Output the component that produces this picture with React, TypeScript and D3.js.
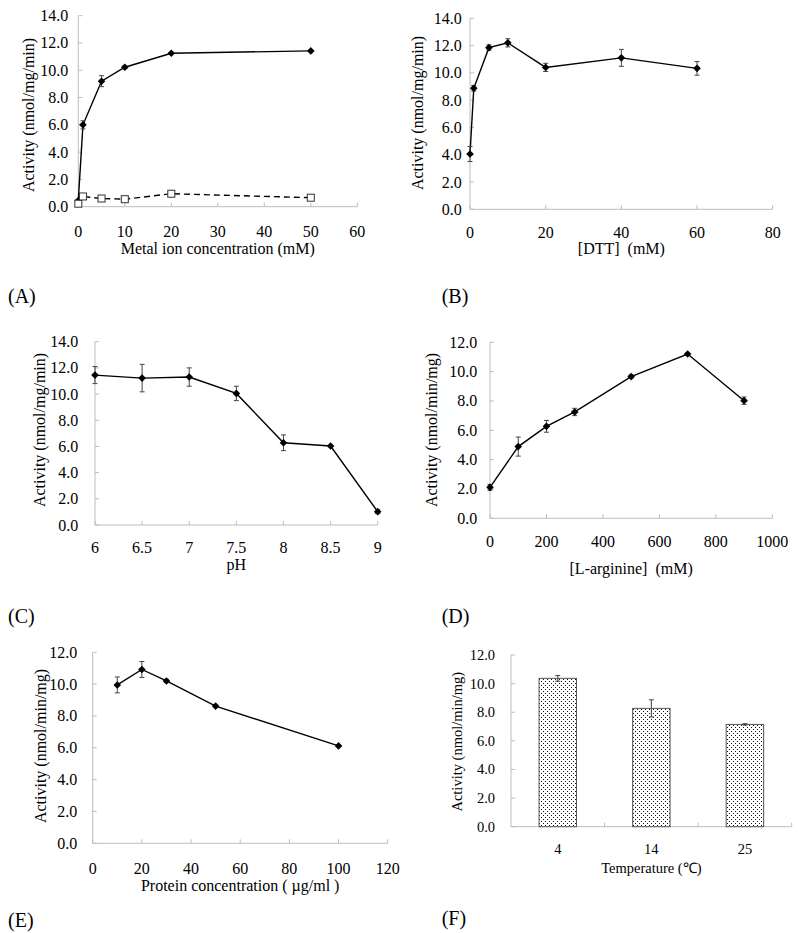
import React from "react";
import * as d3 from "d3";

// ---------- DATA ----------
// (A) metal ion concentration
const metalX = [0, 1, 5, 10, 20, 50];
const metalSolid = [0.45, 6.0, 9.2, 10.22, 11.25, 11.42];
const metalSolidErr = [0, 0.3, 0.4, 0.1, 0.05, 0.05];
const metalOpen = [0.22, 0.75, 0.6, 0.55, 0.95, 0.66];
const metalOpenErr = [0.05, 0.1, 0.05, 0.05, 0.2, 0.05];
// (B) DTT
const dttX = [0, 1, 5, 10, 20, 40, 60];
const dttY = [4.05, 8.87, 11.85, 12.2, 10.4, 11.1, 10.33];
const dttErr = [0.55, 0.2, 0.2, 0.3, 0.3, 0.62, 0.5];
// (C) pH
const phX = [6, 6.5, 7, 7.5, 8, 8.5, 9];
const phY = [11.45, 11.22, 11.3, 10.05, 6.28, 6.03, 1.02];
const phErr = [0.65, 1.05, 0.7, 0.55, 0.6, 0.05, 0.15];
// (D) L-arginine
const argX = [0, 100, 200, 300, 500, 700, 900];
const argY = [2.11, 4.89, 6.27, 7.25, 9.66, 11.2, 8.02];
const argErr = [0.2, 0.65, 0.4, 0.25, 0.1, 0.05, 0.25];
// (E) protein concentration
const protX = [10, 20, 30, 50, 100];
const protY = [9.95, 10.92, 10.2, 8.62, 6.12];
const protErr = [0.5, 0.5, 0.1, 0.05, 0.05];
// (F) temperature
const tempCats = ["4", "14", "25"];
const tempY = [10.37, 8.27, 7.15];
const tempErr = [0.2, 0.6, 0.05];

const xTicksA = [0, 10, 20, 30, 40, 50, 60];
const xTicksB = [0, 20, 40, 60, 80];
const xTicksC = [6, 6.5, 7, 7.5, 8, 8.5, 9];
const xTicksD = [0, 200, 400, 600, 800, 1000];
const xTicksE = [0, 20, 40, 60, 80, 100, 120];
const yTicks14 = [0, 2, 4, 6, 8, 10, 12, 14];
const yTicks12 = [0, 2, 4, 6, 8, 10, 12];

const FONT = "'Liberation Serif', 'Times New Roman', serif";
const AXIS = "#bdbdbd";
const fmtY = d3.format(".1f");
const fmtX = d3.format("~g");

type Series = {
  x: number[];
  y: number[];
  err: number[];
  marker: "diamond" | "square";
  dashed?: boolean;
};

type PanelProps = {
  x0: number; x1: number; y0: number; y1: number;
  xDomain: [number, number]; yDomain: [number, number];
  xTicks: number[]; yTicks: number[];
  xLabelY: number; yLabelRight: number;
  xTitle: string; xTitleY: number;
  yTitle: string; yTitleX: number; yTitleY: number;
  series: Series[];
  fontSize?: number;
};

function diamondPath(s: number) {
  return `M0,${-s}L${s},0L0,${s}L${-s},0Z`;
}

function LinePanel(p: PanelProps) {
  const fs = p.fontSize ?? 16;
  const x = d3.scaleLinear().domain(p.xDomain).range([p.x0, p.x1]);
  const y = d3.scaleLinear().domain(p.yDomain).range([p.y0, p.y1]);
  return (
    <g>
      <line x1={p.x0} x2={p.x0} y1={y(p.yDomain[0])} y2={y(p.yDomain[1])} stroke={AXIS} strokeWidth={1} />
      <line x1={p.x0} x2={p.x1} y1={p.y0} y2={p.y0} stroke={AXIS} strokeWidth={1} />
      {p.yTicks.map((t) => (
        <g key={"y" + t}>
          <line x1={p.x0} x2={p.x0 + 4} y1={y(t)} y2={y(t)} stroke={AXIS} />
          <text x={p.yLabelRight} y={y(t)} textAnchor="end" dominantBaseline="central" fontSize={fs} fontFamily={FONT}>{fmtY(t)}</text>
        </g>
      ))}
      {p.xTicks.map((t) => (
        <g key={"x" + t}>
          <line x1={x(t)} x2={x(t)} y1={p.y0} y2={p.y0 - 4} stroke={AXIS} />
          <text x={x(t)} y={p.xLabelY} textAnchor="middle" dominantBaseline="central" fontSize={fs} fontFamily={FONT}>{fmtX(t)}</text>
        </g>
      ))}
      <text x={(p.x0 + p.x1) / 2} y={p.xTitleY} textAnchor="middle" dominantBaseline="central" fontSize={fs} fontFamily={FONT} style={{ whiteSpace: "pre" }}>{p.xTitle}</text>
      <text transform={`translate(${p.yTitleX},${p.yTitleY}) rotate(-90)`} textAnchor="middle" dominantBaseline="central" fontSize={fs} fontFamily={FONT}>{p.yTitle}</text>
      {p.series.map((s, si) => {
        const pts = s.x.map((xv, i) => [xv, s.y[i]] as [number, number]);
        const line = d3.line<[number, number]>().x((d) => x(d[0])).y((d) => y(d[1]));
        return (
          <g key={si}>
            <path d={line(pts) || ""} fill="none" stroke="#000" strokeWidth={1.4} strokeDasharray={s.dashed ? "6,4" : undefined} />
            {pts.map((d, i) => {
              const e = s.err[i];
              if (!e) return null;
              const cx = x(d[0]);
              return (
                <g key={"e" + i} stroke="#444" strokeWidth={1}>
                  <line x1={cx} x2={cx} y1={y(d[1] - e)} y2={y(d[1] + e)} />
                  <line x1={cx - 2.5} x2={cx + 2.5} y1={y(d[1] - e)} y2={y(d[1] - e)} />
                  <line x1={cx - 2.5} x2={cx + 2.5} y1={y(d[1] + e)} y2={y(d[1] + e)} />
                </g>
              );
            })}
            {pts.map((d, i) =>
              s.marker === "diamond" ? (
                <path key={"m" + i} d={diamondPath(3.8)} transform={`translate(${x(d[0])},${y(d[1])})`} fill="#000" />
              ) : (
                <rect key={"m" + i} x={x(d[0]) - 3.5} y={y(d[1]) - 3.5} width={7} height={7} fill="#fff" stroke="#333" strokeWidth={1} />
              )
            )}
          </g>
        );
      })}
    </g>
  );
}

function BarPanel() {
  const fs = 14.5;
  const x0 = 511, x1 = 791.7, y0 = 826.7, y1 = 655;
  const x = d3.scaleBand<string>().domain(tempCats).range([x0, x1]).paddingInner(0.6).paddingOuter(0.3);
  const y = d3.scaleLinear().domain([0, 12]).range([y0, y1]);
  const step = x.step();
  return (
    <g>
      <defs>
        <pattern id="dots" x={0} y={0} width={4} height={4} patternUnits="userSpaceOnUse">
          <rect width={4} height={4} fill="#fff" />
          <rect x={1} y={1} width={1} height={1} fill="#111" />
          <rect x={3} y={3} width={1} height={1} fill="#111" />
        </pattern>
      </defs>
      <line x1={x0} x2={x0} y1={y0} y2={y1} stroke={AXIS} />
      <line x1={x0} x2={x1} y1={y0} y2={y0} stroke={AXIS} />
      {yTicks12.map((t) => (
        <g key={t}>
          <line x1={x0} x2={x0 + 4} y1={y(t)} y2={y(t)} stroke={AXIS} />
          <text x={495} y={y(t)} textAnchor="end" dominantBaseline="central" fontSize={fs} fontFamily={FONT}>{fmtY(t)}</text>
        </g>
      ))}
      {tempCats.map((c, i) => (
        <line key={"t" + c} x1={x0 + step * (i + 1)} x2={x0 + step * (i + 1)} y1={y0} y2={y0 - 4} stroke={AXIS} />
      ))}
      {tempCats.map((c, i) => {
        const bx = x(c)!;
        const bw = x.bandwidth();
        const cx = bx + bw / 2;
        const v = tempY[i];
        const e = tempErr[i];
        return (
          <g key={c}>
            <rect x={bx} y={y(v)} width={bw} height={y0 - y(v)} fill="url(#dots)" stroke="#555" strokeWidth={1} />
            <g stroke="#444">
              <line x1={cx} x2={cx} y1={y(v - e)} y2={y(v + e)} />
              <line x1={cx - 2.5} x2={cx + 2.5} y1={y(v + e)} y2={y(v + e)} />
              <line x1={cx - 2.5} x2={cx + 2.5} y1={y(v - e)} y2={y(v - e)} />
            </g>
            <text x={cx} y={849.3} textAnchor="middle" dominantBaseline="central" fontSize={fs} fontFamily={FONT}>{c}</text>
          </g>
        );
      })}
      <text x={(x0 + x1) / 2} y={868.3} textAnchor="middle" dominantBaseline="central" fontSize={fs} fontFamily={FONT}>Temperature (℃)</text>
      <text transform={`translate(456.7,741.7) rotate(-90)`} textAnchor="middle" dominantBaseline="central" fontSize={fs} fontFamily={FONT}>Activity (nmol/min/mg)</text>
    </g>
  );
}

export default function App() {
  const lab = (t: string, xx: number, yy: number) => (
    <text x={xx} y={yy} dominantBaseline="central" fontSize={20} fontFamily={FONT}>{t}</text>
  );
  return (
    <svg width={800} height={933} style={{ position: "absolute", left: 0, top: 0, background: "#fff" }}>
      <rect width={800} height={933} fill="#fff" />
      <LinePanel
        x0={78.3} x1={357.3} y0={206.7} y1={15.7}
        xDomain={[0, 60]} yDomain={[0, 14]}
        xTicks={xTicksA} yTicks={yTicks14}
        xLabelY={231} yLabelRight={68.3}
        xTitle="Metal ion concentration (mM)" xTitleY={248.3}
        yTitle="Activity (nmol/mg/min)" yTitleX={28.3} yTitleY={115}
        series={[
          { x: metalX, y: metalSolid, err: metalSolidErr, marker: "diamond" },
          { x: metalX, y: metalOpen, err: metalOpenErr, marker: "square", dashed: true },
        ]}
      />
      <LinePanel
        x0={470} x1={772.7} y0={209.3} y1={18.3}
        xDomain={[0, 80]} yDomain={[0, 14]}
        xTicks={xTicksB} yTicks={yTicks14}
        xLabelY={232.7} yLabelRight={461.7}
        xTitle="[DTT]  (mM)" xTitleY={248.3}
        yTitle="Activity (nmol/mg/min)" yTitleX={417.5} yTitleY={113}
        series={[{ x: dttX, y: dttY, err: dttErr, marker: "diamond" }]}
      />
      <LinePanel
        x0={95} x1={377.7} y0={525} y1={341.7}
        xDomain={[6, 9]} yDomain={[0, 14]}
        xTicks={xTicksC} yTicks={yTicks14}
        xLabelY={547} yLabelRight={78.3}
        xTitle="pH" xTitleY={564}
        yTitle="Activity (nmol/mg/min)" yTitleX={39} yTitleY={430}
        series={[{ x: phX, y: phY, err: phErr, marker: "diamond" }]}
      />
      <LinePanel
        x0={490} x1={772.3} y0={518.3} y1={342.3}
        xDomain={[0, 1000]} yDomain={[0, 12]}
        xTicks={xTicksD} yTicks={yTicks12}
        xLabelY={541.7} yLabelRight={477.3}
        xTitle="[L-arginine]  (mM)" xTitleY={568.3}
        yTitle="Activity (nmol/min/mg)" yTitleX={431.7} yTitleY={430}
        series={[{ x: argX, y: argY, err: argErr, marker: "diamond" }]}
      />
      <LinePanel
        x0={92.7} x1={387.7} y0={843.3} y1={652.3}
        xDomain={[0, 120]} yDomain={[0, 12]}
        xTicks={xTicksE} yTicks={yTicks12}
        xLabelY={868.3} yLabelRight={77.3}
        xTitle="Protein concentration ( µg/ml )" xTitleY={885}
        yTitle="Activity (nmol/min/mg)" yTitleX={40.7} yTitleY={746}
        series={[{ x: protX, y: protY, err: protErr, marker: "diamond" }]}
      />
      <BarPanel />
      {lab("(A)", 8, 296)}
      {lab("(B)", 441.7, 296)}
      {lab("(C)", 8, 616)}
      {lab("(D)", 441.7, 616)}
      {lab("(E)", 8, 920)}
      {lab("(F)", 441.7, 918)}
    </svg>
  );
}
